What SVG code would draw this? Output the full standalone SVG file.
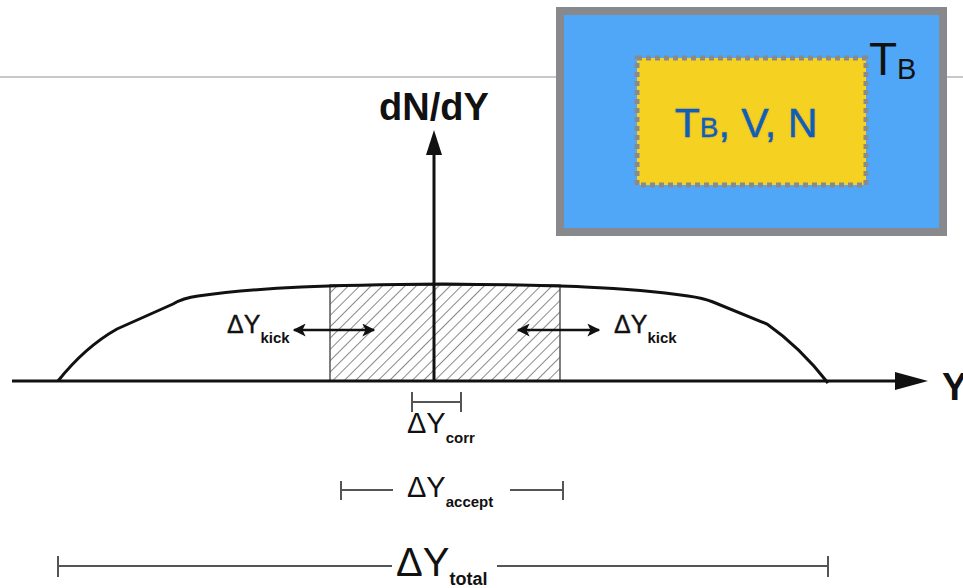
<svg xmlns="http://www.w3.org/2000/svg" width="963" height="588" viewBox="0 0 963 588">
  <style>
    .ax { stroke: #111; stroke-width: 3; fill: none; }
    .dim { stroke: #555; stroke-width: 2; fill: none; }
    .lbl { font-family: "Liberation Sans", Arial, sans-serif; fill: #111; }
    .sub { font-weight: bold; }
  </style>
  <defs>
    <pattern id="hatch" patternUnits="userSpaceOnUse" width="8" height="8" patternTransform="rotate(45)">
      <line x1="0" y1="0" x2="0" y2="8" stroke="#555" stroke-width="1.4"/>
    </pattern>
    <marker id="ah" viewBox="0 0 10 10" refX="9" refY="5" markerWidth="16" markerHeight="13" orient="auto-start-reverse" markerUnits="userSpaceOnUse">
      <path d="M0,0 L10,5 L0,10 L2.5,5 z" fill="#111"/>
    </marker>
    <filter id="glow" x="-10%" y="-20%" width="120%" height="140%">
      <feGaussianBlur in="SourceAlpha" stdDeviation="1.2" result="b"/>
      <feFlood flood-color="#b89500" flood-opacity="0.6"/>
      <feComposite in2="b" operator="in" result="s"/>
      <feMerge><feMergeNode in="s"/><feMergeNode in="SourceGraphic"/></feMerge>
    </filter>
  </defs>
  <rect width="963" height="588" fill="#fff"/>

  <g id="topline">
    <line x1="0" y1="77" x2="963" y2="77" stroke="#c8c8c8" stroke-width="2"/>
  </g>

  <g id="distribution">
    <rect x="330" y="285" width="230" height="96" fill="url(#hatch)" stroke="#555" stroke-width="1.5"/>
    <path class="ax" stroke-width="2.5" d="M58,381 Q85,347 117,329 L173,304 Q183,298 198,296 C260,287 330,285 443,284 C556,285 626,287 688,296 Q703,298 713,302 L767,324 Q800,347 828,383"/>
  </g>

  <g id="axes">
    <line class="ax" x1="12" y1="381" x2="898" y2="381"/>
    <polygon points="895,372 928,381 895,390" fill="#111"/>
    <line class="ax" x1="434" y1="381" x2="434" y2="152"/>
    <polygon points="426,155 434,130 442,155" fill="#111"/>
    <text class="lbl" x="434" y="120" font-size="38" font-weight="bold" text-anchor="middle">dN/dY</text>
    <text class="lbl" x="942" y="400" font-size="38" font-weight="bold">Y</text>
  </g>

  <g id="connectors">
    <line x1="294" y1="330" x2="374" y2="330" stroke="#111" stroke-width="2.5" marker-start="url(#ah)" marker-end="url(#ah)"/>
    <line x1="518" y1="330" x2="599" y2="330" stroke="#111" stroke-width="2.5" marker-start="url(#ah)" marker-end="url(#ah)"/>
  </g>

  <g id="kick-left">
    <text class="lbl" x="227" y="333" font-size="25" stroke="#111" stroke-width="0.4">ΔY<tspan class="sub" font-size="15" dy="10" stroke-width="0">kick</tspan></text>
  </g>
  <g id="kick-right">
    <text class="lbl" x="614" y="333" font-size="25" stroke="#111" stroke-width="0.4">ΔY<tspan class="sub" font-size="15" dy="10" stroke-width="0">kick</tspan></text>
  </g>

  <g id="corr">
    <path class="dim" d="M412,392 V412 M412,402 H461 M461,392 V412"/>
    <text class="lbl" x="407" y="433" font-size="29">ΔY<tspan class="sub" font-size="15" dy="10">corr</tspan></text>
  </g>

  <g id="accept">
    <path class="dim" d="M341,481 V500 M341,490 H393 M510,490 H563 M563,481 V500"/>
    <text class="lbl" x="407" y="497" font-size="29">ΔY<tspan class="sub" font-size="15" dy="10">accept</tspan></text>
  </g>

  <g id="total">
    <path class="dim" d="M58,556 V577 M58,566 H392 M497,566 H828 M828,556 V577"/>
    <text class="lbl" x="396" y="576" font-size="40">ΔY<tspan class="sub" font-size="18" dy="9">total</tspan></text>
  </g>

  <g id="inset">
    <rect x="560" y="11" width="383" height="221" fill="#50a7f8" stroke="#87898c" stroke-width="8"/>
    <rect x="637" y="58" width="229" height="127" fill="#f5d222" stroke="#8a8a8a" stroke-width="5" stroke-dasharray="5 4"/>
    <text class="lbl" x="675" y="137" font-size="41" style="fill:#0a60b4" stroke="#0a60b4" stroke-width="0.6" filter="url(#glow)">T<tspan font-size="28">B</tspan>, V, N</text>
    <text class="lbl" x="869" y="75" font-size="46">T<tspan font-size="29" dy="4">B</tspan></text>
  </g>
</svg>
